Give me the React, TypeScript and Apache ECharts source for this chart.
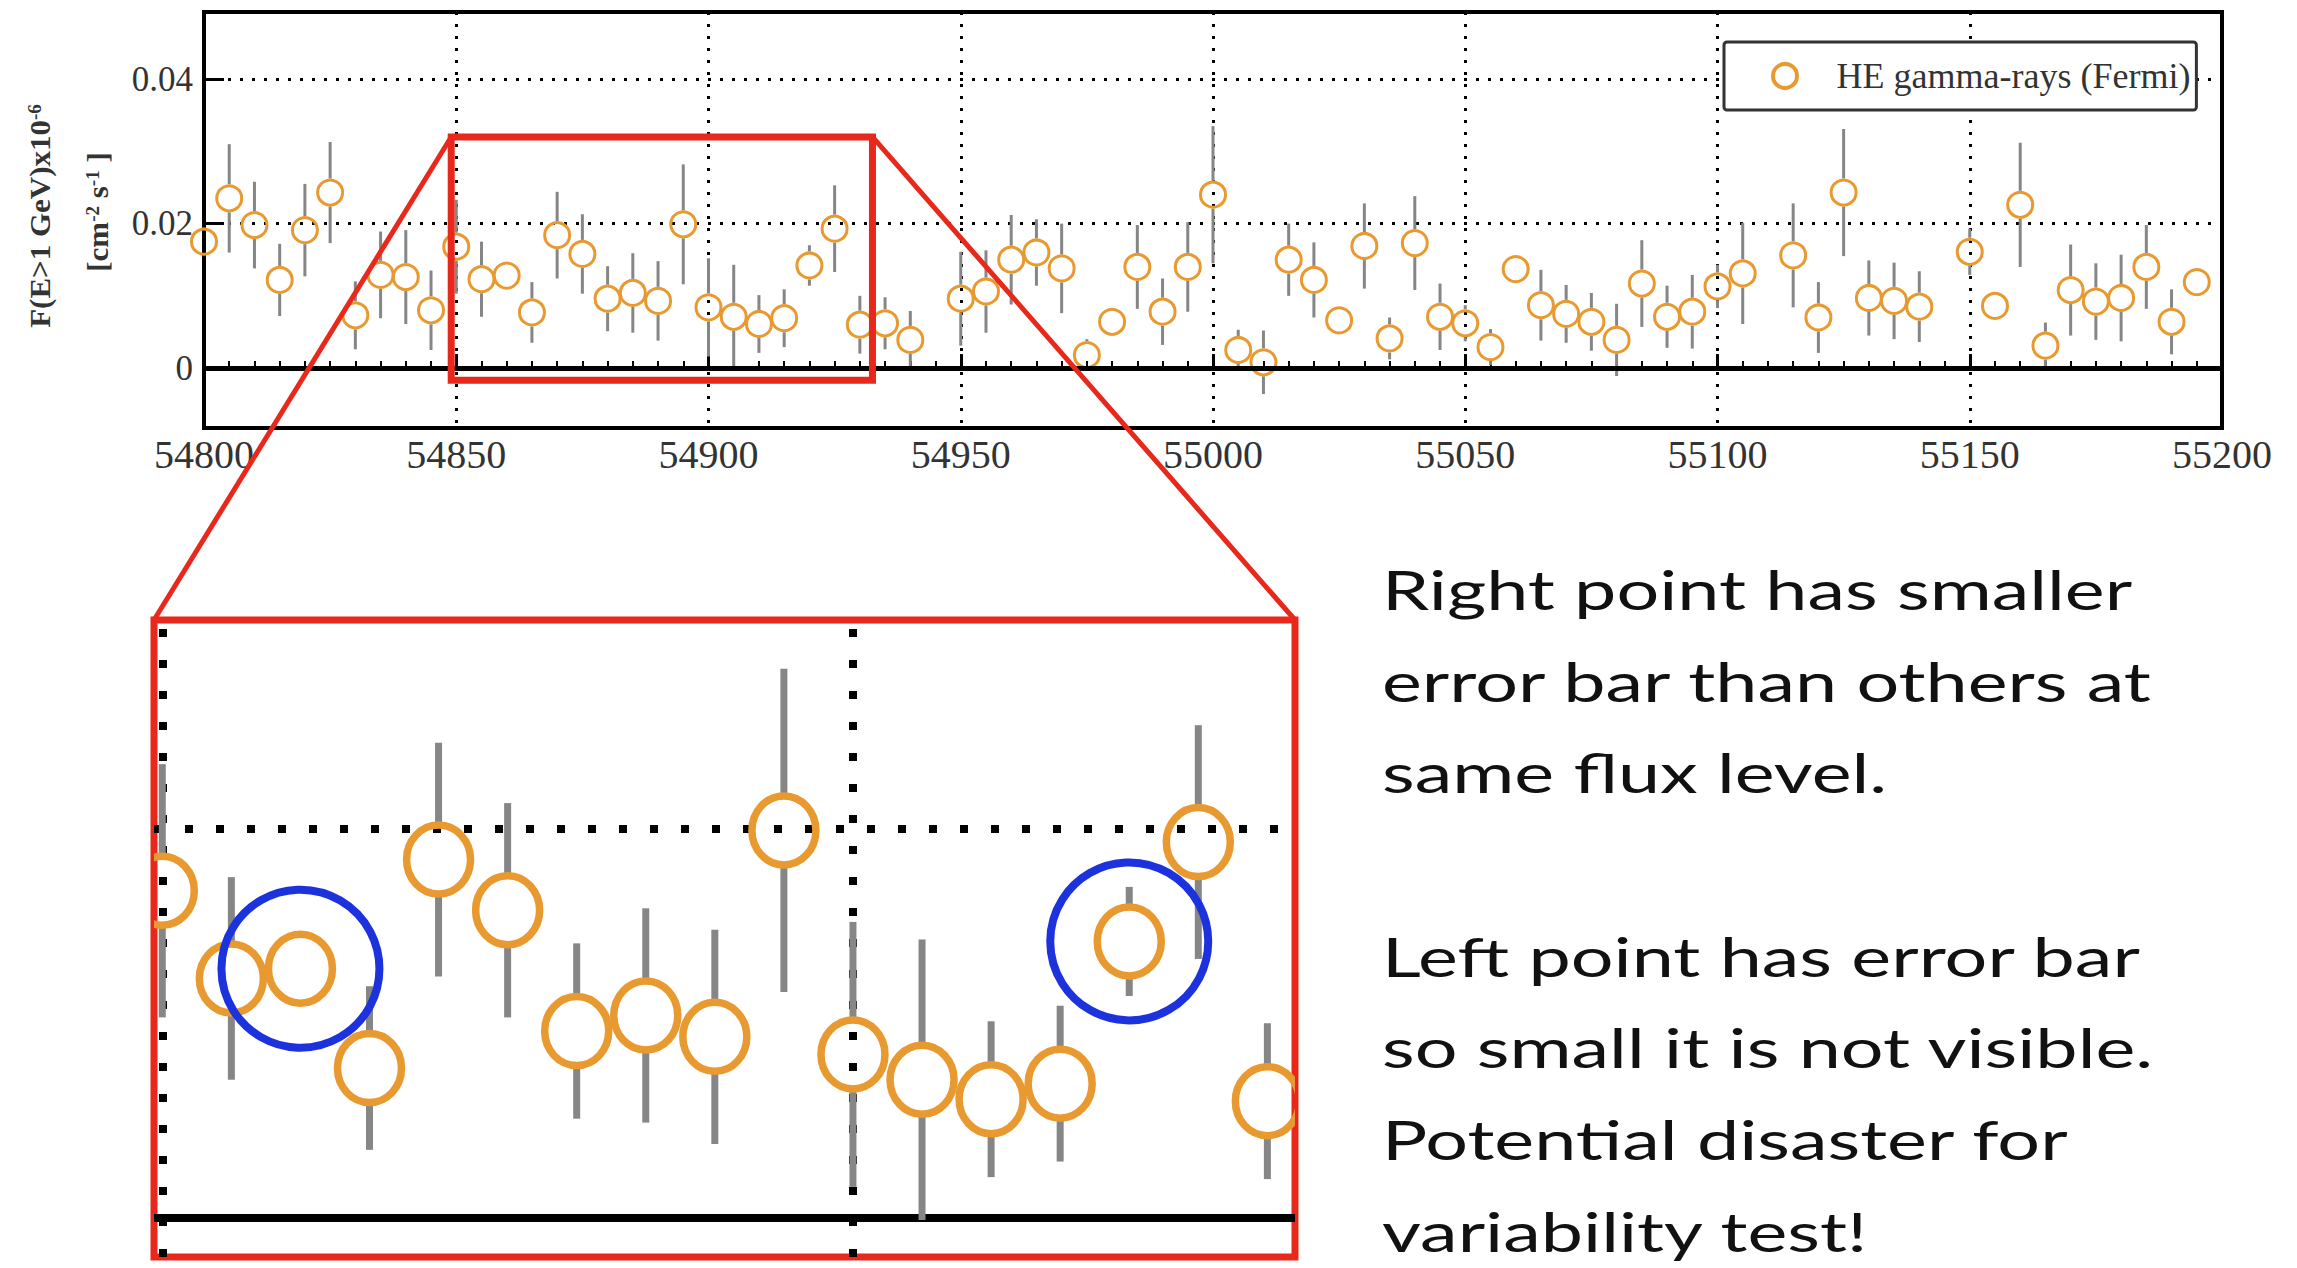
import React, { useEffect, useRef } from "react";
import * as echarts from "echarts";

// ---------- data ----------
const DAYS = [
  54800, 54805, 54810, 54815, 54820, 54825, 54830, 54835, 54840, 54845,
  54850, 54855, 54860, 54865, 54870, 54875, 54880, 54885, 54890, 54895,
  54900, 54905, 54910, 54915, 54920, 54925, 54930, 54935, 54940,
  54950, 54955, 54960, 54965, 54970, 54975, 54980, 54985, 54990, 54995,
  55000, 55005, 55010, 55015, 55020, 55025, 55030, 55035, 55040, 55045,
  55050, 55055, 55060, 55065, 55070, 55075, 55080, 55085, 55090, 55095,
  55100, 55105,
  55115, 55120, 55125, 55130, 55135, 55140,
  55150, 55155, 55160, 55165, 55170, 55175, 55180, 55185, 55190, 55195,
];
const FLUX = [
  0.0175, 0.0235, 0.0198, 0.0122, 0.0191, 0.0243, 0.0073, 0.0129, 0.0126, 0.008,
  0.0168, 0.0123, 0.0128, 0.0077, 0.0184, 0.0158, 0.0096, 0.0104, 0.0093, 0.0199,
  0.0084, 0.0071, 0.0061, 0.0069, 0.0142, 0.0193, 0.006, 0.0062, 0.0039,
  0.0096, 0.0106, 0.015, 0.016, 0.0138, 0.0018, 0.0064, 0.014, 0.0078, 0.014,
  0.024, 0.0025, 0.0008, 0.015, 0.0122, 0.0066, 0.0169, 0.0041, 0.0173, 0.0071,
  0.0062, 0.0029, 0.0137, 0.0087, 0.0075, 0.0064, 0.0039, 0.0117, 0.0071, 0.0078,
  0.0113, 0.0131,
  0.0156, 0.007, 0.0243, 0.0097, 0.0093, 0.0085,
  0.0161, 0.0086, 0.0226, 0.0031, 0.0108, 0.0092, 0.0097, 0.014, 0.0064, 0.0119,
];
const FLUX_ERR = [
  0.002, 0.0075, 0.006, 0.005, 0.0064, 0.007, 0.0047, 0.006, 0.0065, 0.0055,
  0.0065, 0.0052, 0.0008, 0.0042, 0.006, 0.0055, 0.0045, 0.0055, 0.0055, 0.0083,
  0.0068, 0.0072, 0.004, 0.004, 0.0028, 0.006, 0.004, 0.0036, 0.004,
  0.0065, 0.0057, 0.0062, 0.0046, 0.0062, 0.0022, 0.001, 0.0058, 0.0046, 0.0062,
  0.0095, 0.0028, 0.0044, 0.005, 0.0052, 0.001, 0.0059, 0.0029, 0.0065, 0.0046,
  0.0025, 0.0025, 0.001, 0.0049, 0.004, 0.004, 0.005, 0.006, 0.0043, 0.0051,
  0.003, 0.007,
  0.0072, 0.0049, 0.0088, 0.0052, 0.0053, 0.0049,
  0.0032, 0.001, 0.0086, 0.0032, 0.0063, 0.0053, 0.006, 0.0058, 0.0045, 0.001,
];
const HIGHLIGHT_DAYS = [54860, 54920];

const X_RANGE = [54800, 55200];
const X_INTERVAL = 50;
const Y_RANGE = [-0.0083, 0.0493];
const Y_LABEL_STEP = 0.02;

const BOX_DAYS = [54849, 54932.5];
const BOX_FLUX = [-0.0017, 0.032];
const INSET_DAYS = [54849.4, 54932];
const INSET_FLUX = [-0.002, 0.0307];
const INSET_GRID_DAYS = [54850, 54900];
const INSET_GRID_FLUX = [0.02];

const LEGEND_NAME = "HE gamma-rays (Fermi)";
const Y_TITLE_1 = "{a|F(E>1 GeV)x10}{s|-6}";
const Y_TITLE_2 = "{a|[cm}{s|-2}{a| s}{s|-1}{a| ]}";
const NOTE_LINES = [
  "Right point has smaller",
  "error bar than others at",
  "same flux level.",
  "",
  "Left point has error bar",
  "so small it is not visible.",
  "Potential disaster for",
  "variability test!",
];

// ---------- styles ----------
const SERIF = "'Liberation Serif', 'Times New Roman', serif";
const SANS = "Lato, 'Open Sans', sans-serif";
const ORANGE = "#E8992F";
const BAR = "#868686";
const RED = "#E8281B";
const BLUE = "#1C32DD";
const INK = "#333";

function errorBars(gap: number, width: number, withRing: boolean) {
  return (_p: any, api: any) => {
    const x = api.value(0);
    const y = api.value(1);
    const e = api.value(2);
    const c = api.coord([x, y]);
    const hi = api.coord([x, y + e]);
    const lo = api.coord([x, y - e]);
    const children: any[] = [];
    if (c[1] - gap > hi[1]) {
      children.push({
        type: "line",
        shape: { x1: c[0], y1: hi[1], x2: c[0], y2: c[1] - gap },
        style: { stroke: BAR, lineWidth: width },
      });
    }
    if (lo[1] > c[1] + gap) {
      children.push({
        type: "line",
        shape: { x1: c[0], y1: c[1] + gap, x2: c[0], y2: lo[1] },
        style: { stroke: BAR, lineWidth: width },
      });
    }
    if (withRing) {
      children.push({
        type: "ellipse",
        shape: { cx: c[0], cy: c[1], rx: 32, ry: 34.5 },
        style: { fill: "none", stroke: ORANGE, lineWidth: 7.5 },
      });
    }
    return { type: "group", children };
  };
}

function buildOption() {
  const points = DAYS.map((d, i) => [d, FLUX[i], FLUX_ERR[i]]);
  const insetPoints = points.filter((p) => p[0] >= INSET_DAYS[0] - 10 && p[0] <= INSET_DAYS[1] + 10);
  const highlights = HIGHLIGHT_DAYS.map((d) => [d, FLUX[DAYS.indexOf(d)]]);
  const dotted = (w: number, dash: number[]) => ({ color: "#000", width: w, type: dash });

  return {
    animation: false,
    backgroundColor: "#fff",
    grid: [
      { left: 204, top: 12, width: 2018, height: 416, show: true, borderColor: "#000", borderWidth: 4, backgroundColor: "transparent" },
      { left: 154, top: 620, width: 1141, height: 637, show: true, borderColor: RED, borderWidth: 7, backgroundColor: "transparent" },
    ],
    legend: {
      data: [{ name: LEGEND_NAME, icon: "circle" }],
      left: 1724,
      top: 42,
      itemWidth: 93,
      itemHeight: 24,
      padding: [16, 6, 16, 47],
      backgroundColor: "#fff",
      borderColor: "#333",
      borderWidth: 3,
      borderRadius: 3,
      selectedMode: false,
      itemStyle: { color: "rgba(0,0,0,0)", borderColor: ORANGE, borderWidth: 4 },
      textStyle: { fontFamily: SERIF, fontSize: 36, color: INK },
    },
    xAxis: [
      {
        type: "value",
        gridIndex: 0,
        min: X_RANGE[0],
        max: X_RANGE[1],
        interval: X_INTERVAL,
        axisLine: { show: true, lineStyle: { color: "#000", width: 4 } },
        axisTick: { show: true, inside: true, length: 14, lineStyle: { color: "#000", width: 3 } },
        minorTick: { show: true, splitNumber: 10, length: 7, lineStyle: { color: "#000", width: 2 } },
        axisLabel: { fontFamily: SERIF, fontSize: 40, color: INK, margin: 6, formatter: (v: number) => String(Math.round(v)) },
        splitLine: { show: true, lineStyle: dotted(3, [3, 9]) },
      },
      {
        type: "value",
        gridIndex: 1,
        min: INSET_DAYS[0],
        max: INSET_DAYS[1],
        show: false,
      },
    ],
    yAxis: [
      {
        type: "value",
        gridIndex: 0,
        min: Y_RANGE[0],
        max: Y_RANGE[1],
        splitNumber: 3,
        axisLine: { show: true, lineStyle: { color: "#000", width: 4 } },
        axisTick: { show: true, inside: true, length: 20, lineStyle: { color: "#000", width: 3 } },
        axisLabel: {
          fontFamily: SERIF,
          fontSize: 35,
          color: INK,
          margin: 11,
          showMinLabel: false,
          showMaxLabel: false,
          formatter: (v: number) => {
            const r = Math.round(v / Y_LABEL_STEP) * Y_LABEL_STEP;
            if (Math.abs(v - r) > 1e-7) return "";
            return Math.abs(r) < 1e-9 ? "0" : r.toFixed(2);
          },
        },
        splitLine: { show: true, lineStyle: dotted(3, [3, 9]) },
      },
      {
        type: "value",
        gridIndex: 1,
        min: INSET_FLUX[0],
        max: INSET_FLUX[1],
        show: false,
      },
    ],
    series: [
      {
        type: "custom",
        name: "errors",
        xAxisIndex: 0,
        yAxisIndex: 0,
        dimensions: ["day", "flux", "err"],
        encode: { x: 0, y: 1 },
        data: points,
        renderItem: errorBars(14, 3, false),
        silent: true,
        z: 2,
      },
      {
        type: "scatter",
        name: LEGEND_NAME,
        xAxisIndex: 0,
        yAxisIndex: 0,
        data: points.map((p) => [p[0], p[1]]),
        symbol: "circle",
        symbolSize: 25,
        itemStyle: { color: "rgba(0,0,0,0)", borderColor: ORANGE, borderWidth: 3, opacity: 1 },
        silent: true,
        z: 3,
        markLine: {
          silent: true,
          symbol: "none",
          label: { show: false },
          lineStyle: { color: "#000", width: 5, type: "solid" },
          data: [{ yAxis: 0 }],
        },
      },
      {
        type: "custom",
        name: "inset",
        xAxisIndex: 1,
        yAxisIndex: 1,
        dimensions: ["day", "flux", "err"],
        encode: { x: 0, y: 1 },
        data: insetPoints,
        renderItem: errorBars(34, 7, true),
        clip: true,
        silent: true,
        z: 3,
      },
      {
        type: "scatter",
        name: "highlight",
        xAxisIndex: 1,
        yAxisIndex: 1,
        data: highlights,
        symbol: "circle",
        symbolSize: 158,
        itemStyle: { color: "rgba(0,0,0,0)", borderColor: BLUE, borderWidth: 8, opacity: 1 },
        silent: true,
        z: 5,
        markLine: {
          silent: true,
          symbol: "none",
          z: 1,
          label: { show: false },
          data: [
            ...INSET_GRID_DAYS.map((d) => ({ xAxis: d, lineStyle: dotted(8, [8, 23]) })),
            ...INSET_GRID_FLUX.map((f) => ({ yAxis: f, lineStyle: dotted(8, [8, 23]) })),
            { yAxis: 0, lineStyle: { color: "#000", width: 8, type: "solid" } },
          ],
        },
      },
    ],
  };
}

export default function App() {
  const ref = useRef<HTMLDivElement>(null);
  useEffect(() => {
    const el = ref.current;
    if (!el) return;
    const chart = echarts.init(el, undefined, { renderer: "svg" });
    chart.setOption(buildOption() as any);

    const tl = chart.convertToPixel({ gridIndex: 0 } as any, [BOX_DAYS[0], BOX_FLUX[1]]) as number[];
    const br = chart.convertToPixel({ gridIndex: 0 } as any, [BOX_DAYS[1], BOX_FLUX[0]]) as number[];
    const itl = chart.convertToPixel({ gridIndex: 1 } as any, [INSET_DAYS[0], INSET_FLUX[1]]) as number[];
    const itr = chart.convertToPixel({ gridIndex: 1 } as any, [INSET_DAYS[1], INSET_FLUX[1]]) as number[];

    const noteFont = 54;
    const ctx = document.createElement("canvas").getContext("2d");
    let noteScale = 1.4;
    if (ctx) {
      ctx.font = `${noteFont}px Lato`;
      const w = ctx.measureText(NOTE_LINES[1]).width;
      if (w > 0) noteScale = 772 / w;
    }

    const titleRich = {
      a: { fontFamily: SERIF, fontSize: 31, fontWeight: "bold", fill: INK },
      s: { fontFamily: SERIF, fontSize: 19, fontWeight: "bold", fill: INK, verticalAlign: "top" },
    };

    chart.setOption({
      graphic: [
        {
          type: "rect",
          z: 100,
          shape: { x: tl[0], y: tl[1], width: br[0] - tl[0], height: br[1] - tl[1] },
          style: { fill: "none", stroke: RED, lineWidth: 7 },
        },
        {
          type: "line",
          z: 100,
          shape: { x1: tl[0], y1: tl[1], x2: itl[0], y2: itl[1] },
          style: { stroke: RED, lineWidth: 5 },
        },
        {
          type: "line",
          z: 100,
          shape: { x1: br[0], y1: tl[1], x2: itr[0], y2: itr[1] },
          style: { stroke: RED, lineWidth: 5 },
        },
        {
          type: "text",
          x: 40,
          y: 216,
          rotation: Math.PI / 2,
          scaleY: 0.95,
          style: { text: Y_TITLE_1, rich: titleRich, align: "center", verticalAlign: "middle", fill: INK },
        },
        {
          type: "text",
          x: 98,
          y: 212,
          rotation: Math.PI / 2,
          scaleY: 0.95,
          style: { text: Y_TITLE_2, rich: titleRich, align: "center", verticalAlign: "middle", fill: INK },
        },
        {
          type: "text",
          x: 1382,
          y: 543,
          scaleX: noteScale,
          style: {
            text: NOTE_LINES.join("\n"),
            fontFamily: SANS,
            fontSize: noteFont,
            lineHeight: 91.7,
            fill: "#111",
            align: "left",
            verticalAlign: "top",
          },
        },
      ],
    } as any);

    return () => chart.dispose();
  }, []);
  return <div ref={ref} style={{ position: "fixed", left: 0, top: 0, width: 2297, height: 1268 }} />;
}
